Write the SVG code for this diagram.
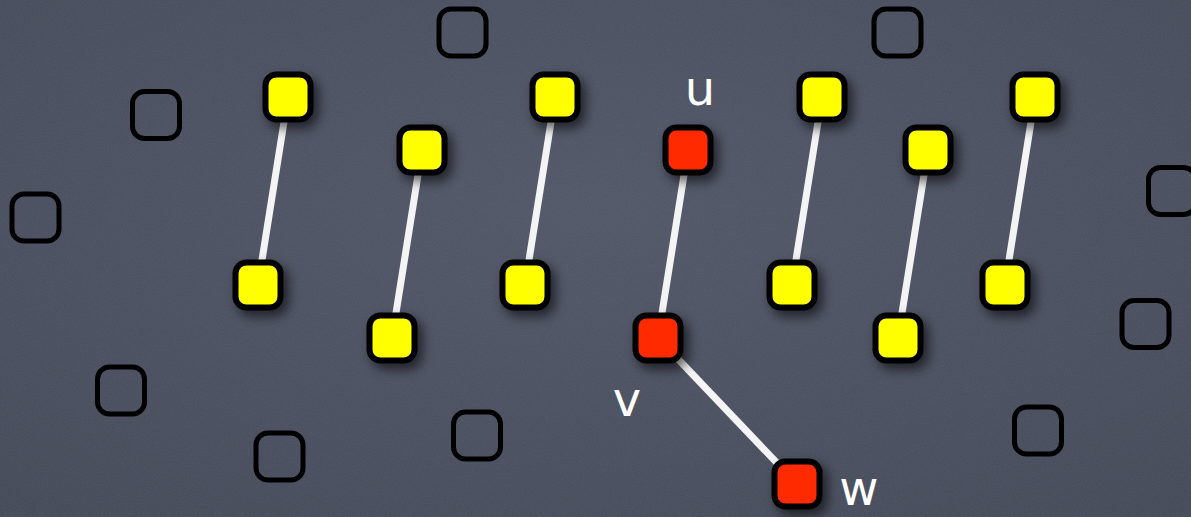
<svg xmlns="http://www.w3.org/2000/svg" width="1191" height="517" viewBox="0 0 1191 517">
  <defs>
    <style>
      .empty { fill: none; stroke: #000; stroke-width: 5; }
      .yel { fill: #ffff00; stroke: #000; stroke-width: 6; }
      .red { fill: #ff2a00; stroke: #000; stroke-width: 6; }
      .edge { stroke: #f4f4f4; stroke-width: 7; stroke-linecap: butt; }
      .lbl { font-family: "DejaVu Sans", "Noto Sans", sans-serif; font-size: 48px; fill: #ffffff; text-anchor: middle; }
    </style>
    <filter id="shadow" x="-50%" y="-50%" width="200%" height="200%">
      <feDropShadow dx="5" dy="6" stdDeviation="6" flood-color="#000" flood-opacity="0.6"/>
    </filter>
    <filter id="noise" x="0" y="0" width="100%" height="100%">
      <feTurbulence type="fractalNoise" baseFrequency="0.9" numOctaves="2" seed="3"/>
      <feColorMatrix type="matrix" values="0 0 0 0 1  0 0 0 0 1  0 0 0 0 1  0 0 0 0.07 0"/>
    </filter>
    <radialGradient id="bg" cx="50%" cy="40%" r="75%">
      <stop offset="0" stop-color="#4f5566"/>
      <stop offset="1" stop-color="#434858"/>
    </radialGradient>
  </defs>
  <rect width="1191" height="517" fill="url(#bg)"/>
  <rect width="1191" height="517" filter="url(#noise)"/>

  <g id="connectors">
    <line class="edge" x1="288" y1="97" x2="258" y2="285"/>
    <line class="edge" x1="422" y1="150" x2="392" y2="338"/>
    <line class="edge" x1="555" y1="97" x2="525" y2="285"/>
    <line class="edge" x1="688" y1="150" x2="658" y2="338"/>
    <line class="edge" x1="658" y1="338" x2="797" y2="484"/>
    <line class="edge" x1="822" y1="97" x2="792" y2="285"/>
    <line class="edge" x1="928" y1="150" x2="898" y2="338"/>
    <line class="edge" x1="1035" y1="97" x2="1005" y2="285"/>
  </g>

  <g id="empty-nodes">
    <g id="e1"><rect class="empty" x="132.5" y="91.5" width="47" height="47" rx="12"/></g>
    <g id="e2"><rect class="empty" x="12" y="194" width="47" height="47" rx="12"/></g>
    <g id="e3"><rect class="empty" x="439" y="9" width="47" height="47" rx="12"/></g>
    <g id="e4"><rect class="empty" x="874" y="9" width="47" height="47" rx="12"/></g>
    <g id="e5"><rect class="empty" x="1148.5" y="167.5" width="47" height="47" rx="12"/></g>
    <g id="e6"><rect class="empty" x="1122" y="300.5" width="47" height="47" rx="12"/></g>
    <g id="e7"><rect class="empty" x="97.5" y="367" width="47" height="47" rx="12"/></g>
    <g id="e8"><rect class="empty" x="256" y="433" width="47" height="47" rx="12"/></g>
    <g id="e9"><rect class="empty" x="453.5" y="412" width="47" height="47" rx="12"/></g>
    <g id="e10"><rect class="empty" x="1014.5" y="407" width="47" height="47" rx="12"/></g>
  </g>

  <g id="nodes" filter="url(#shadow)">
    <g id="y1a"><rect class="yel" x="265.5" y="74.5" width="45" height="45" rx="11"/></g>
    <g id="y1b"><rect class="yel" x="235.5" y="262.5" width="45" height="45" rx="11"/></g>
    <g id="y2a"><rect class="yel" x="399.5" y="127.5" width="45" height="45" rx="11"/></g>
    <g id="y2b"><rect class="yel" x="369.5" y="315.5" width="45" height="45" rx="11"/></g>
    <g id="y3a"><rect class="yel" x="532.5" y="74.5" width="45" height="45" rx="11"/></g>
    <g id="y3b"><rect class="yel" x="502.5" y="262.5" width="45" height="45" rx="11"/></g>
    <g id="u"><rect class="red" x="665.5" y="127.5" width="45" height="45" rx="11"/></g>
    <g id="v"><rect class="red" x="635.5" y="315.5" width="45" height="45" rx="11"/></g>
    <g id="w"><rect class="red" x="774.5" y="461.5" width="45" height="45" rx="11"/></g>
    <g id="y5a"><rect class="yel" x="799.5" y="74.5" width="45" height="45" rx="11"/></g>
    <g id="y5b"><rect class="yel" x="769.5" y="262.5" width="45" height="45" rx="11"/></g>
    <g id="y6a"><rect class="yel" x="905.5" y="127.5" width="45" height="45" rx="11"/></g>
    <g id="y6b"><rect class="yel" x="875.5" y="315.5" width="45" height="45" rx="11"/></g>
    <g id="y7a"><rect class="yel" x="1012.5" y="74.5" width="45" height="45" rx="11"/></g>
    <g id="y7b"><rect class="yel" x="982.5" y="262.5" width="45" height="45" rx="11"/></g>
  </g>

  <g id="labels">
    <text class="lbl" x="700" y="105">u</text>
    <text class="lbl" x="627" y="416">v</text>
    <text class="lbl" x="859" y="505">w</text>
  </g>
</svg>
